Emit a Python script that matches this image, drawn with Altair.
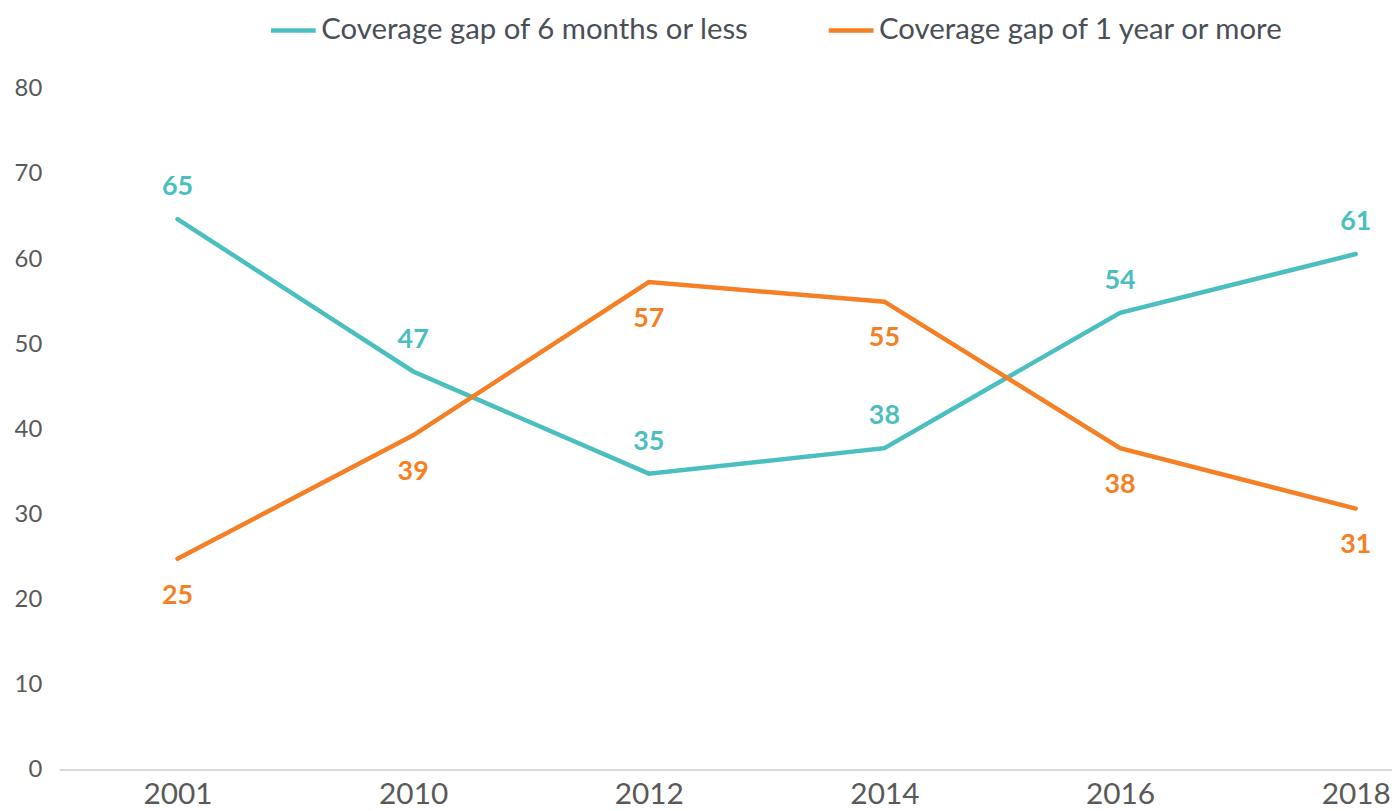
import altair as alt
import pandas as pd

years = ["2001", "2010", "2012", "2014", "2016", "2018"]
gap_short = [64.7, 46.8, 34.8, 37.8, 53.7, 60.6]
gap_long = [24.8, 39.3, 57.3, 55.0, 37.8, 30.7]
series_names = ["Coverage gap of 6 months or less", "Coverage gap of 1 year or more"]
series_colors = ["#4BBFBF", "#F47F24"]

rows = []
for y, a, b in zip(years, gap_short, gap_long):
    rows.append({"year": y, "series": series_names[0], "value": a})
    rows.append({"year": y, "series": series_names[1], "value": b})
df = pd.DataFrame(rows)

FONT = "Lato"
W, H = 1332, 685
STEP = 237

xscale = alt.Scale(type="point", domain=years, range=[STEP / 2, STEP / 2 + 5 * STEP], padding=0)
yscale = alt.Scale(domain=[0, 80], nice=False)

x_enc = alt.X("year:N", sort=years, scale=xscale,
              axis=alt.Axis(title=None, domain=False, ticks=False, grid=False, labelAngle=0,
                            labelFontSize=30, labelColor="#595959", labelFont=FONT, labelPadding=10))
y_enc = alt.Y("value:Q", scale=yscale,
              axis=alt.Axis(title=None, domain=False, ticks=False, grid=False, values=list(range(0, 81, 10)),
                            labelFontSize=24, labelColor="#595959", labelFont=FONT, labelPadding=18))
color_enc = alt.Color("series:N", scale=alt.Scale(domain=series_names, range=series_colors),
                      legend=alt.Legend(title=None, orient="none", direction="horizontal", columns=2,
                                        legendX=210, legendY=-84, symbolType="stroke", symbolSize=2025,
                                        symbolStrokeWidth=4.5, labelFontSize=29.5, labelFont=FONT,
                                        labelColor="#4A4F57", labelOffset=3, columnPadding=70,
                                        labelLimit=700))

base = alt.Chart(df)

baseline = alt.Chart(pd.DataFrame({"v": [0]})).mark_rule(color="#D9D9D9", strokeWidth=2).encode(
    x=alt.value(0), x2=alt.value(W + 16), y=alt.Y("v:Q", scale=yscale))

lines = base.mark_line(strokeWidth=4.5, strokeCap="round").encode(
    x=x_enc, y=y_enc, color=color_enc, detail="series:N")

lbl_short = base.transform_filter(alt.datum.series == series_names[0]).transform_calculate(
    lbl="format(datum.value, '.0f')").mark_text(
    dy=-32, fontSize=27, fontWeight="bold", font=FONT, baseline="middle", color=series_colors[0]).encode(
    x=alt.X("year:N", sort=years, scale=xscale), y=alt.Y("value:Q", scale=yscale), text="lbl:N")
lbl_long = base.transform_filter(alt.datum.series == series_names[1]).transform_calculate(
    lbl="format(datum.value, '.0f')").mark_text(
    dy=37, fontSize=27, fontWeight="bold", font=FONT, baseline="middle", color=series_colors[1]).encode(
    x=alt.X("year:N", sort=years, scale=xscale), y=alt.Y("value:Q", scale=yscale), text="lbl:N")

chart = alt.layer(baseline, lines, lbl_short, lbl_long).properties(
    width=W, height=H,
    autosize=alt.AutoSizeParams(type="none"),
    padding={"left": 52, "top": 79, "right": 8, "bottom": 40},
).configure(font=FONT).configure_view(strokeWidth=0, stroke="transparent")

chart.save("out.html", embed_options={"renderer": "svg", "actions": False})
